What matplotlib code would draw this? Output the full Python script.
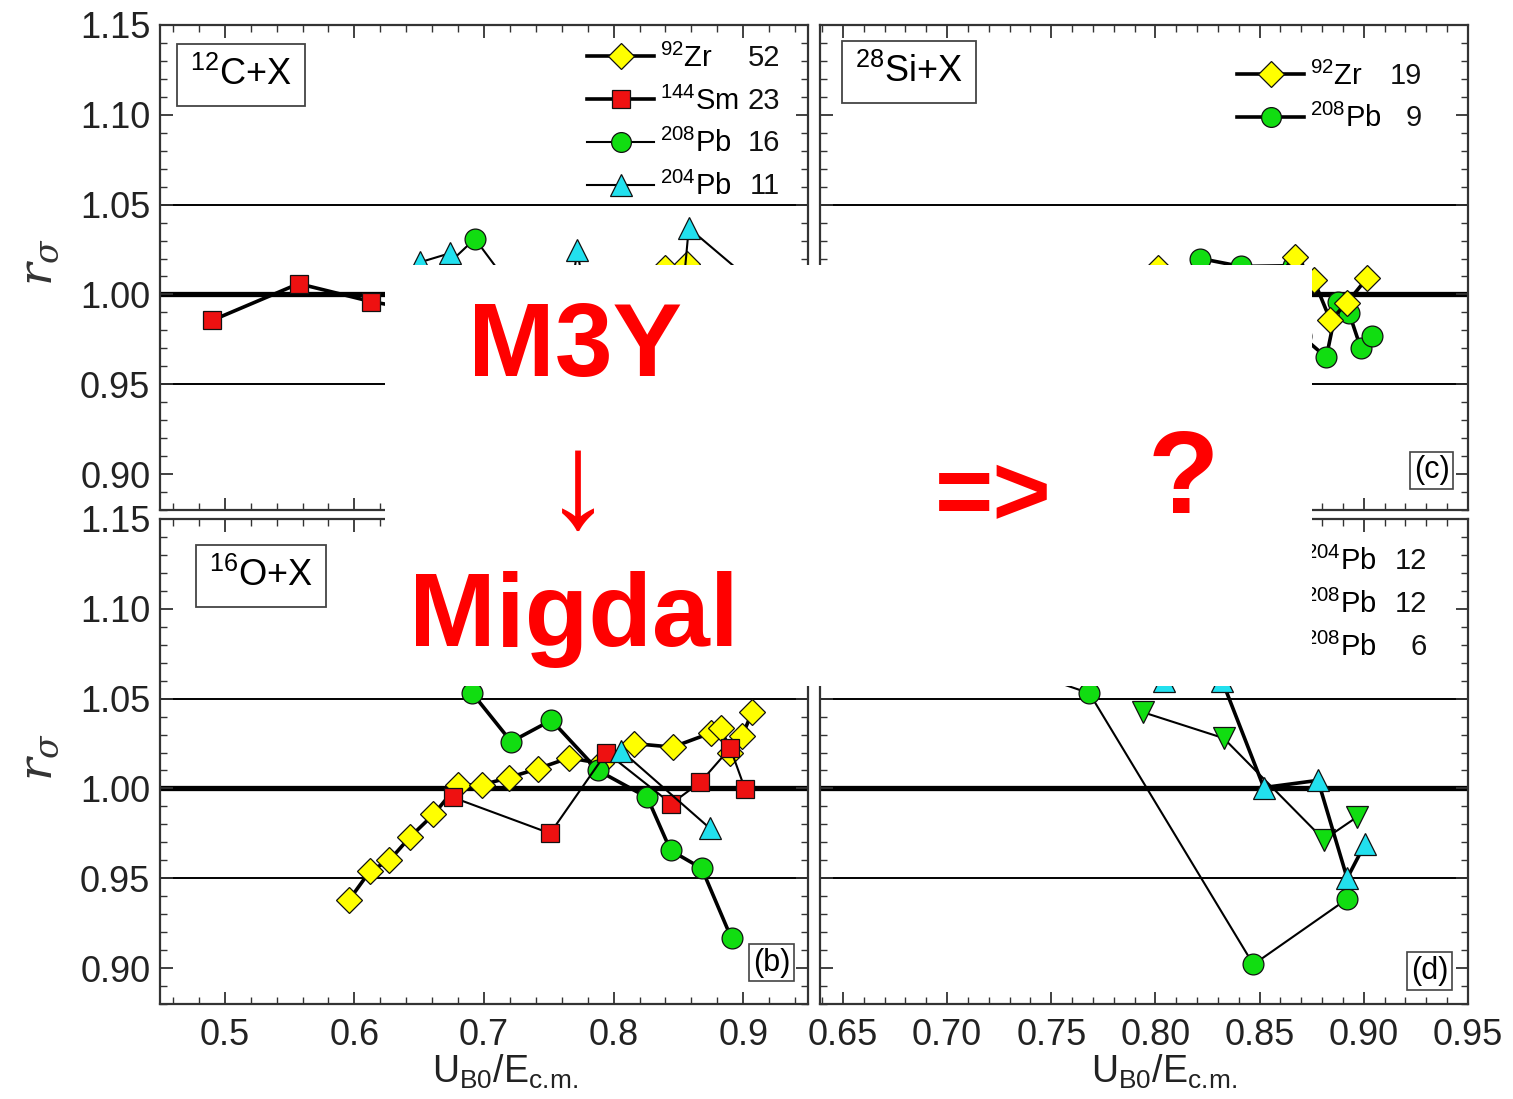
import matplotlib
matplotlib.use('Agg')
import matplotlib.pyplot as plt
from matplotlib.ticker import MultipleLocator
from matplotlib.patches import Rectangle

plt.rcParams['font.family'] = ['Liberation Sans', 'DejaVu Sans']
plt.rcParams['mathtext.fontset'] = 'custom'
plt.rcParams['mathtext.rm'] = 'Liberation Sans'
plt.rcParams['mathtext.it'] = 'Liberation Sans:italic'
plt.rcParams['mathtext.bf'] = 'Liberation Sans:bold'

# ---------------- data ----------------
# panel (a) 12C+X
a_zr_x = [0.64, 0.66, 0.69, 0.72, 0.75, 0.78, 0.80, 0.82, 0.840, 0.857, 0.875, 0.89, 0.91]
a_zr_y = [0.975, 0.985, 0.990, 0.995, 1.000, 1.002, 1.004, 1.005, 1.0145, 1.017, 1.004, 0.995, 1.000]
a_sm_x = [0.49, 0.557, 0.613, 0.66, 0.70, 0.75, 0.80, 0.85, 0.90]
a_sm_y = [0.9855, 1.006, 0.996, 0.990, 0.985, 0.990, 0.995, 0.990, 0.980]
a_pb8_x = [0.64, 0.693, 0.725, 0.76, 0.80, 0.84, 0.88]
a_pb8_y = [0.995, 1.031, 1.000, 0.990, 0.985, 0.975, 0.965]
a_pb4_x = [0.651, 0.674, 0.685, 0.765, 0.772, 0.78, 0.852, 0.858, 0.935]
a_pb4_y = [1.018, 1.023, 0.990, 0.990, 1.0245, 0.990, 0.990, 1.037, 0.990]

# panel (b) 16O+X
b_zr_x = [0.596, 0.612, 0.627, 0.643, 0.661, 0.680, 0.6985, 0.719, 0.7415, 0.7655,
          0.790, 0.8155, 0.8455, 0.8755, 0.883, 0.890, 0.899, 0.907]
b_zr_y = [0.938, 0.954, 0.960, 0.973, 0.9855, 1.002, 1.002, 1.006, 1.011, 1.017,
          1.014, 1.025, 1.023, 1.031, 1.0335, 1.020, 1.029, 1.0425]
b_sm_x = [0.676, 0.751, 0.7945, 0.8445, 0.867, 0.890, 0.9015]
b_sm_y = [0.995, 0.975, 1.020, 0.9915, 1.0035, 1.0225, 0.9995]
b_pb8_x = [0.66, 0.691, 0.721, 0.752, 0.788, 0.826, 0.844, 0.868, 0.891]
b_pb8_y = [1.09, 1.053, 1.026, 1.038, 1.010, 0.995, 0.9655, 0.9555, 0.9165]
b_pb4_x = [0.806, 0.874]
b_pb4_y = [1.021, 0.978]

# panel (c) 28Si+X
c_zr_x = [0.66, 0.68, 0.70, 0.72, 0.74, 0.76, 0.775, 0.79, 0.801, 0.812, 0.822, 0.832,
          0.842, 0.852, 0.867, 0.876, 0.884, 0.892, 0.9015]
c_zr_y = [0.985, 0.990, 0.995, 0.990, 1.000, 0.995, 1.000, 1.003, 1.015, 1.003, 1.000, 0.998,
          0.995, 1.000, 1.021, 1.008, 0.9855, 0.9955, 1.009]
c_pb8_x = [0.8216, 0.841, 0.866, 0.870, 0.882, 0.8875, 0.893, 0.8986, 0.904]
c_pb8_y = [1.020, 1.0156, 1.016, 0.977, 0.965, 0.996, 0.9894, 0.970, 0.9766]

# panel (d)
d_pb4_x = [0.70, 0.72, 0.74, 0.76, 0.78, 0.79, 0.804, 0.832, 0.852, 0.878, 0.892, 0.9005]
d_pb4_y = [1.10, 1.09, 1.12, 1.08, 1.10, 1.09, 1.060, 1.060, 1.0005, 1.0045, 0.950, 0.969]
d_pb8v_x = [0.7938, 0.8327, 0.8808, 0.8966]
d_pb8v_y = [1.0425, 1.028, 0.9715, 0.984]
d_pb8o_x = [0.655, 0.68, 0.70, 0.7683, 0.847, 0.892]
d_pb8o_y = [1.09, 1.11, 1.08, 1.053, 0.902, 0.9385]

# ticks / labels
x_ticks_left = [0.5, 0.6, 0.7, 0.8, 0.9]
x_labels_left = ['0.5', '0.6', '0.7', '0.8', '0.9']
x_ticks_right = [0.65, 0.70, 0.75, 0.80, 0.85, 0.90, 0.95]
x_labels_right = ['0.65', '0.70', '0.75', '0.80', '0.85', '0.90', '0.95']
y_ticks = [0.90, 0.95, 1.00, 1.05, 1.10, 1.15]
y_labels = ['0.90', '0.95', '1.00', '1.05', '1.10', '1.15']

legend_a = [(r'$^{92}$Zr', '52'), (r'$^{144}$Sm', '23'), (r'$^{208}$Pb', '16'), (r'$^{204}$Pb', '11')]
legend_c = [(r'$^{92}$Zr', '19'), (r'$^{208}$Pb', '9')]
legend_d = [(r'$^{204}$Pb', '12'), (r'$^{208}$Pb', '12'), (r'$^{208}$Pb', '6')]

# ---------------- styles ----------------
YEL, RED, GRN, CYN = '#ffff00', '#ee1111', '#11dd11', '#22e0ee'
THICK, THIN = 2.6, 1.5

W, H = 1513, 1099
fig = plt.figure(figsize=(W / 100, H / 100), dpi=100)


def axrect(l, t, r, b):
    return [l / W, 1 - b / H, (r - l) / W, (b - t) / H]


ax_a = fig.add_axes(axrect(160, 25, 808, 510))
ax_c = fig.add_axes(axrect(820, 25, 1468, 510))
ax_b = fig.add_axes(axrect(160, 519, 808, 1004))
ax_d = fig.add_axes(axrect(820, 519, 1468, 1004))


def style(ax, left):
    ax.set_ylim(0.88, 1.15)
    if left:
        ax.set_xlim(0.45, 0.95)
        ax.set_xticks(x_ticks_left, x_labels_left)
        ax.xaxis.set_minor_locator(MultipleLocator(0.02))
    else:
        ax.set_xlim(0.639, 0.95)
        ax.set_xticks(x_ticks_right, x_labels_right)
        ax.xaxis.set_minor_locator(MultipleLocator(0.01))
    ax.set_yticks(y_ticks, y_labels)
    ax.yaxis.set_minor_locator(MultipleLocator(0.01))
    ax.tick_params(which='both', direction='in', top=True, right=True,
                   labelsize=26, color='#333', labelcolor='#222')
    ax.tick_params(which='major', length=9, width=1.3)
    ax.tick_params(which='minor', length=5, width=1.0)
    ax.tick_params(axis='x', pad=10)
    ax.tick_params(axis='y', pad=7)
    for s in ax.spines.values():
        s.set_linewidth(1.6)
        s.set_color('#333')
    ax.axhline(1.05, color='k', lw=1.4, zorder=1)
    ax.axhline(0.95, color='k', lw=1.4, zorder=1)
    ax.axhline(1.00, color='k', lw=3.8, zorder=1)


for ax, left in [(ax_a, True), (ax_b, True), (ax_c, False), (ax_d, False)]:
    style(ax, left)
ax_a.tick_params(labelbottom=False)
ax_c.tick_params(labelbottom=False, labelleft=False)
ax_d.tick_params(labelleft=False)


def series(ax, x, y, marker, fc, lw, ms, z=3):
    line, = ax.plot(x, y, color='k', lw=lw, marker=marker, ms=ms, mfc=fc,
                    mec='#111', mew=0.9, zorder=z)
    return line


MS_D, MS_S, MS_O, MS_T = 13.5, 13, 15, 16.5

# panel (a)
h_a = [series(ax_a, a_zr_x, a_zr_y, 'D', YEL, THICK, MS_D, 3),
       series(ax_a, a_sm_x, a_sm_y, 's', RED, THICK, MS_S, 3),
       series(ax_a, a_pb8_x, a_pb8_y, 'o', GRN, THIN, MS_O, 3),
       series(ax_a, a_pb4_x, a_pb4_y, '^', CYN, THIN, MS_T, 3)]
# panel (b)
series(ax_b, b_zr_x, b_zr_y, 'D', YEL, THICK, MS_D, 3)
series(ax_b, b_pb8_x, b_pb8_y, 'o', GRN, THICK, MS_O, 3)
series(ax_b, b_sm_x, b_sm_y, 's', RED, THIN, MS_S, 4)
series(ax_b, b_pb4_x, b_pb4_y, '^', CYN, THIN, MS_T, 4)
# panel (c)
h_c_pb = series(ax_c, c_pb8_x, c_pb8_y, 'o', GRN, THICK, MS_O, 3)
h_c_zr = series(ax_c, c_zr_x, c_zr_y, 'D', YEL, THICK, MS_D, 4)
h_c = [h_c_zr, h_c_pb]
# panel (d)
h_d = [series(ax_d, d_pb4_x, d_pb4_y, '^', CYN, THICK, MS_T, 4),
       series(ax_d, d_pb8v_x, d_pb8v_y, 'v', GRN, THIN, MS_T, 3),
       series(ax_d, d_pb8o_x, d_pb8o_y, 'o', GRN, THIN, MS_O, 3)]

# legends
LFS = 21
legs = []


def add_legend(ax, handles, entries, anchor, num_x):
    leg = ax.legend(handles, [e[0] for e in entries], loc='upper left',
                    bbox_to_anchor=anchor, frameon=False, fontsize=LFS,
                    handlelength=2.3, handletextpad=0.2, labelspacing=0.47,
                    borderpad=0, borderaxespad=0, markerscale=0.95)
    legs.append((ax, leg, [e[1] for e in entries], num_x))


add_legend(ax_a, h_a, legend_a, (0.659, 0.962), 0.957)
add_legend(ax_c, h_c, legend_c, (0.6435, 0.925), 0.929)
add_legend(ax_d, h_d, legend_d, (0.636, 0.942), 0.937)

fig.canvas.draw()
rend = fig.canvas.get_renderer()
for ax, leg, nums, nx in legs:
    for t, n in zip(leg.get_texts(), nums):
        bb = t.get_window_extent(rend)
        yax = ax.transAxes.inverted().transform((0, bb.y0 + 7))[1]
        ax.text(nx, yax, n, transform=ax.transAxes, ha='right', va='baseline',
                fontsize=LFS, color='#111')

# panel name boxes
box_kw = dict(boxstyle='square,pad=0.36', fc='white', ec='#444', lw=1.3)
ax_a.text(0.125, 0.897, r'$^{12}$C+X', transform=ax_a.transAxes, ha='center', va='center',
          fontsize=26, bbox=box_kw, zorder=6)
ax_c.text(0.137, 0.903, r'$^{28}$Si+X', transform=ax_c.transAxes, ha='center', va='center',
          fontsize=26, bbox=box_kw, zorder=6)
ax_b.text(0.156, 0.882, r'$^{16}$O+X', transform=ax_b.transAxes, ha='center', va='center',
          fontsize=26, bbox=box_kw, zorder=6)
tag_kw = dict(boxstyle='square,pad=0.12', fc='white', ec='#444', lw=1.2)
ax_b.text(0.944, 0.085, '(b)', transform=ax_b.transAxes, ha='center', va='center',
          fontsize=22, bbox=tag_kw, zorder=6)
ax_c.text(0.944, 0.082, '(c)', transform=ax_c.transAxes, ha='center', va='center',
          fontsize=22, bbox=tag_kw, zorder=6)
ax_d.text(0.941, 0.068, '(d)', transform=ax_d.transAxes, ha='center', va='center',
          fontsize=22, bbox=tag_kw, zorder=6)

# axis labels
for yc in (262, 757):
    fig.text(40 / W, 1 - yc / H, r'$r_\sigma$', rotation=90, ha='center', va='center',
             fontsize=34, color='#333', math_fontfamily='dejavuserif')
for xc in (505, 1164):
    fig.text(xc / W, 1 - 1083 / H, r'U$_{\mathrm{B0}}$/E$_{\mathrm{c.\!m.}}$',
             ha='center', va='baseline', fontsize=27, color='#222')

# overlay
fig.add_artist(Rectangle((385 / W, 1 - 686 / H), (1312 - 385) / W, (686 - 265) / H,
                         transform=fig.transFigure, facecolor='white', edgecolor='none',
                         zorder=10))
red_kw = dict(color='#ff0000', fontweight='bold', ha='center', va='center', zorder=11,
              family=['Liberation Sans', 'DejaVu Sans'])
fig.text(575 / W, 1 - 350 / H, 'M3Y', fontsize=75, **red_kw)
fig.text(574 / W, 1 - 620 / H, 'Migdal', fontsize=75, **red_kw)
fig.text(578 / W, 1 - 492 / H, '\u2193', fontsize=98, color='#ff0000', ha='center',
         va='center', zorder=11, family=['Liberation Sans', 'DejaVu Sans'])
fig.text(993 / W, 1 - 499 / H, '=>', fontsize=72, **red_kw)
fig.text(1183 / W, 1 - 482 / H, '?', fontsize=84, **red_kw)

fig.savefig('out.png', dpi=100)
